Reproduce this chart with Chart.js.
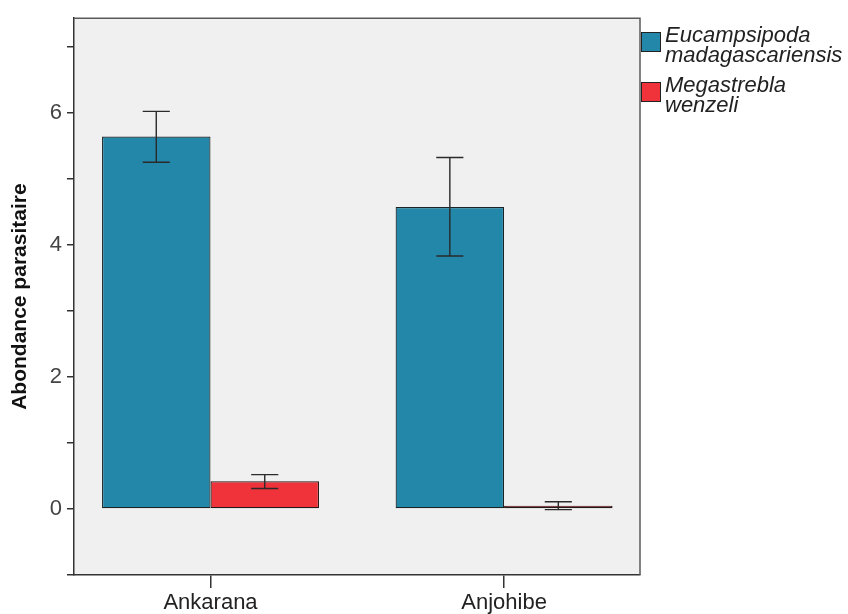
<!DOCTYPE html>
<html>
<head>
<meta charset="utf-8">
<script src="https://cdn.jsdelivr.net/npm/chart.js@4.4.1/dist/chart.umd.min.js"></script>
<style>
  html, body { margin: 0; padding: 0; background: #ffffff; }
  #wrap { width: 848px; height: 614px; }
</style>
</head>
<body>
<div id="wrap"><canvas id="c" width="848" height="614"></canvas></div>
<script>
// Sites and species
const sites = ['Ankarana', 'Anjohibe'];
const speciesNames = [['Eucampsipoda', 'madagascariensis'], ['Megastrebla', 'wenzeli']];

// Mean parasite abundance with error bar limits, per site
const eucampsipodaMean = [5.64, 4.57];
const eucampsipodaLow  = [5.25, 3.83];
const eucampsipodaHigh = [6.02, 5.32];

const megastreblaMean = [0.42, 0.05];
const megastreblaLow  = [0.31, -0.01];
const megastreblaHigh = [0.52, 0.11];

// Y axis ticks: marks at every integer, numbers on the even ones
const yTicks = [-1, 0, 1, 2, 3, 4, 5, 6, 7];
const yLabelled = [0, 2, 4, 6];

const FONT = "'Liberation Sans', Arial, sans-serif";
const toPoints = vals => vals.map((v, i) => ({ x: i, y: v }));

// Grey plot panel behind the bars
const panelPlugin = {
  id: 'panel',
  beforeDraw(chart) {
    const { ctx, chartArea: a } = chart;
    ctx.save();
    ctx.fillStyle = '#F0F0F0';
    ctx.fillRect(a.left, a.top, a.right - a.left, a.bottom - a.top);
    ctx.restore();
  },
  afterDraw(chart) {
    const { ctx, chartArea: a } = chart;
    ctx.save();
    ctx.strokeStyle = '#5a5a5a';
    ctx.lineWidth = 1.5;
    ctx.beginPath();
    ctx.moveTo(a.left, a.top);
    ctx.lineTo(a.right, a.top);
    ctx.lineTo(a.right, a.bottom);
    ctx.stroke();
    ctx.restore();
  }
};

// Error bars with caps, from each dataset's low/high arrays
const errorBarPlugin = {
  id: 'errorBars',
  afterDatasetsDraw(chart) {
    const { ctx } = chart;
    const y = chart.scales.y;
    ctx.save();
    ctx.strokeStyle = '#2a2a2a';
    ctx.lineWidth = 1.4;
    chart.data.datasets.forEach((ds, di) => {
      const meta = chart.getDatasetMeta(di);
      meta.data.forEach((bar, i) => {
        const x = bar.x;
        const yTop = y.getPixelForValue(ds.high[i]);
        const yBot = y.getPixelForValue(ds.low[i]);
        const cap = bar.width * 0.25 / 2;
        ctx.beginPath();
        ctx.moveTo(x, yTop); ctx.lineTo(x, yBot);
        ctx.moveTo(x - cap, yTop); ctx.lineTo(x + cap, yTop);
        ctx.moveTo(x - cap, yBot); ctx.lineTo(x + cap, yBot);
        ctx.stroke();
      });
    });
    ctx.restore();
  }
};

// Legend on the right with two-line italic species names
const sideLegendPlugin = {
  id: 'sideLegend',
  afterDraw(chart) {
    const { ctx, chartArea: a } = chart;
    ctx.save();
    chart.data.datasets.forEach((ds, i) => {
      const x0 = a.right + 1;
      const y0 = 32 + i * 50;
      ctx.fillStyle = ds.backgroundColor;
      ctx.fillRect(x0, y0, 20, 20);
      ctx.strokeStyle = '#222';
      ctx.lineWidth = 1;
      ctx.strokeRect(x0 + 0.5, y0 + 0.5, 19, 19);
      ctx.fillStyle = '#222';
      ctx.font = "italic 22px " + FONT;
      ctx.textBaseline = 'alphabetic';
      ctx.textAlign = 'left';
      ds.label.forEach((line, k) => {
        ctx.fillText(line, x0 + 24, y0 + 10 + k * 20);
      });
    });
    ctx.restore();
  }
};

new Chart(document.getElementById('c'), {
  type: 'bar',
  data: {
    datasets: [
      {
        label: speciesNames[0],
        data: toPoints(eucampsipodaMean),
        low: eucampsipodaLow,
        high: eucampsipodaHigh,
        backgroundColor: '#2287A9',
        borderColor: '#1c2327',
        borderWidth: 1.2,
        borderSkipped: false,
        categoryPercentage: 0.739,
        barPercentage: 1
      },
      {
        label: speciesNames[1],
        data: toPoints(megastreblaMean),
        low: megastreblaLow,
        high: megastreblaHigh,
        backgroundColor: '#F0333B',
        borderColor: '#261818',
        borderWidth: 1.2,
        borderSkipped: false,
        categoryPercentage: 0.739,
        barPercentage: 1
      }
    ]
  },
  options: {
    responsive: false,
    animation: false,
    devicePixelRatio: 1,
    layout: { padding: { top: 16, right: 208, left: 0, bottom: 0 } },
    plugins: {
      legend: { display: false },
      tooltip: { enabled: false }
    },
    scales: {
      x: {
        type: 'linear',
        min: -0.465,
        max: 1.463,
        offset: false,
        afterBuildTicks: s => { s.ticks = sites.map((_, i) => ({ value: i })); },
        afterFit: s => { s.height = 39; },
        ticks: {
          callback: v => sites[v],
          autoSkip: false,
          maxRotation: 0,
          color: '#222',
          padding: 2,
          font: { family: FONT, size: 22 }
        },
        grid: { offset: false, drawOnChartArea: false, tickLength: 13, color: '#333', lineWidth: 1.5 },
        border: { display: true, color: '#333', width: 1.5 }
      },
      y: {
        min: -1,
        max: 7.43,
        afterBuildTicks: s => { s.ticks = yTicks.map(v => ({ value: v })); },
        afterFit: s => { s.width = 74; },
        ticks: {
          callback: v => (yLabelled.includes(v) ? String(v) : ''),
          color: '#444',
          padding: 5,
          font: { family: FONT, size: 22 }
        },
        grid: { drawOnChartArea: false, tickLength: 7, color: '#333', lineWidth: 1.5 },
        border: { display: true, color: '#333', width: 1.5 },
        title: {
          display: true,
          text: 'Abondance parasitaire',
          color: '#111',
          padding: { top: 8, bottom: 0 },
          font: { family: FONT, size: 21, weight: 'bold' }
        }
      }
    }
  },
  plugins: [panelPlugin, errorBarPlugin, sideLegendPlugin]
});
</script>
</body>
</html>
